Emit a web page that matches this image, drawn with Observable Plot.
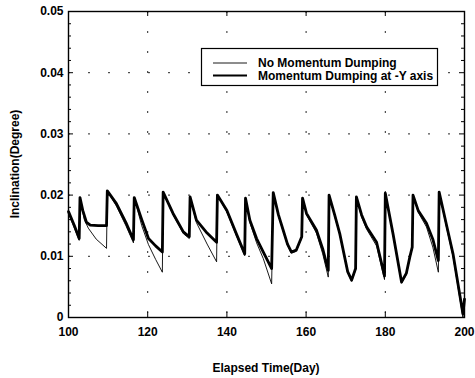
<!DOCTYPE html>
<html>
<head>
<meta charset="utf-8">
<script src="https://cdn.jsdelivr.net/npm/d3@7"></script>
<script src="https://cdn.jsdelivr.net/npm/@observablehq/plot@0.6"></script>
<style>
  html, body { margin: 0; padding: 0; background: #fff; }
  svg { display: block; }
</style>
</head>
<body>
<div id="chart"></div>
<script>
// Momentum Dumping at -Y axis (thick line)
const daysDump = [100, 101.5, 102.7, 102.9, 103.6, 104.5, 105.5, 107.5, 109.6, 109.8, 112.1, 114.5, 116.4, 116.6, 118.5, 120.2, 122, 123.7, 123.9, 126.4, 129, 130.5, 130.7, 132.3, 135, 137.4, 137.6, 140, 142.5, 144.5, 144.7, 145.8, 147.5, 149.2, 151.3, 151.7, 153, 154.2, 155.3, 156.3, 157.5, 158.9, 159.1, 160.1, 162.6, 164.2, 165.6, 165.8, 167.2, 168.5, 170.5, 171.5, 172.5, 172.7, 174, 175.3, 177.8, 179.8, 180, 182, 184.1, 185.3, 186.2, 186.8, 187, 188.3, 190.4, 192, 193.4, 193.6, 195.5, 197.1, 199.6, 200];
const incDump = [0.0173, 0.0150, 0.0129, 0.0196, 0.0175, 0.0156, 0.0151, 0.0150, 0.0150, 0.0207, 0.0186, 0.0155, 0.0127, 0.0196, 0.0160, 0.0129, 0.0117, 0.0107, 0.0205, 0.0170, 0.0140, 0.0132, 0.0197, 0.0159, 0.0138, 0.0123, 0.0200, 0.0175, 0.0135, 0.0104, 0.0195, 0.0159, 0.0129, 0.0107, 0.0080, 0.0204, 0.0168, 0.0143, 0.0120, 0.0107, 0.0110, 0.0132, 0.0195, 0.0170, 0.0143, 0.0112, 0.0077, 0.0200, 0.0168, 0.0137, 0.0075, 0.0061, 0.0080, 0.0197, 0.0168, 0.0148, 0.0123, 0.0068, 0.0203, 0.0135, 0.0058, 0.0072, 0.0099, 0.0115, 0.0200, 0.0175, 0.0154, 0.0128, 0.0093, 0.0205, 0.0150, 0.0104, 0.0006, 0.0030];

// No Momentum Dumping (thin line)
const daysNoDump = [100, 102.7, 102.9, 104, 105, 107, 109.6, 109.8, 112.1, 114.5, 116.4, 116.6, 118.5, 120.2, 122, 123.7, 123.9, 126.4, 129, 130.5, 130.7, 132.3, 135, 137.4, 137.6, 140, 142.5, 144.5, 144.7, 145.8, 147.5, 149.2, 151.3, 151.7, 153, 154.2, 155.3, 156.3, 157.5, 158.9, 159.1, 160.1, 162.6, 164.2, 165.6, 165.8, 167.2, 168.5, 170.5, 171.5, 172.5, 172.7, 174, 175.3, 177.8, 179.8, 180, 182, 184.1, 185.3, 186.2, 186.8, 187, 188.3, 190.4, 192, 193.4, 193.6, 195.5, 197.1, 199.6, 200];
const incNoDump = [0.0170, 0.0126, 0.0196, 0.0160, 0.0146, 0.0128, 0.0113, 0.0207, 0.0182, 0.0150, 0.0122, 0.0196, 0.0150, 0.0119, 0.0095, 0.0074, 0.0205, 0.0168, 0.0137, 0.0129, 0.0197, 0.0155, 0.0120, 0.0091, 0.0200, 0.0172, 0.0132, 0.0101, 0.0195, 0.0155, 0.0122, 0.0096, 0.0055, 0.0204, 0.0166, 0.0141, 0.0118, 0.0105, 0.0108, 0.0130, 0.0195, 0.0168, 0.0138, 0.0104, 0.0066, 0.0200, 0.0166, 0.0135, 0.0073, 0.0059, 0.0078, 0.0197, 0.0164, 0.0144, 0.0117, 0.0062, 0.0203, 0.0133, 0.0056, 0.0070, 0.0097, 0.0113, 0.0200, 0.0172, 0.0148, 0.0115, 0.0074, 0.0205, 0.0146, 0.0100, 0.0000, 0.0028];

const xTicks = [100, 120, 140, 160, 180, 200];
const yTicks = [0, 0.01, 0.02, 0.03, 0.04, 0.05];
const yMinor = [0.002, 0.004, 0.006, 0.008, 0.012, 0.014, 0.016, 0.018, 0.022, 0.024, 0.026, 0.028, 0.032, 0.034, 0.036, 0.038, 0.042, 0.044, 0.046, 0.048];
const seriesNames = ["No Momentum Dumping", "Momentum Dumping at -Y axis"];
const xLabel = "Elapsed Time(Day)";
const yLabel = "Inclination(Degree)";

const dump = daysDump.map((d, i) => ({day: d, inc: incDump[i]}));
const noDump = daysNoDump.map((d, i) => ({day: d, inc: incNoDump[i]}));

const W = 475, H = 378, ML = 68, MR = 11, MT = 11, MB = 61;
const PW = W - ML - MR, PH = H - MT - MB;
const font = "'Liberation Sans', Arial, Helvetica, sans-serif";

const chart = Plot.plot({
  width: W,
  height: H,
  marginLeft: ML,
  marginRight: MR,
  marginTop: MT,
  marginBottom: MB,
  style: {fontFamily: font, background: "#fff", color: "#000"},
  x: {domain: [100, 200]},
  y: {domain: [0, 0.05]},
  marks: [
    Plot.gridX(xTicks.slice(1, -1), {stroke: "#000", strokeOpacity: 0.85, strokeDasharray: "2,18"}),
    Plot.gridY(yTicks.slice(1, -1), {stroke: "#000", strokeOpacity: 0.85, strokeDasharray: "2,18"}),
    Plot.tickY(yMinor, {y: d => d, stroke: "#000", insetRight: PW - 3}),
    Plot.tickY(yMinor, {y: d => d, stroke: "#000", insetLeft: PW - 3}),
    Plot.tickY(yTicks, {y: d => d, stroke: "#000", insetRight: PW - 5}),
    Plot.tickY(yTicks, {y: d => d, stroke: "#000", insetLeft: PW - 5}),
    Plot.tickX(xTicks, {x: d => d, stroke: "#000", insetTop: PH - 5}),
    Plot.tickX(xTicks, {x: d => d, stroke: "#000", insetBottom: PH - 5}),
    Plot.line(dump, {x: "day", y: "inc", stroke: "#000", strokeWidth: 2.8, strokeLinejoin: "round"}),
    Plot.line(noDump, {x: "day", y: "inc", stroke: "#000", strokeWidth: 0.9, strokeLinejoin: "round"}),
    Plot.frame({stroke: "#000", strokeWidth: 1.4}),
    Plot.axisX(xTicks, {tickSize: 0, tickPadding: 10, fontSize: 12, fontWeight: "bold", label: null, tickFormat: d => String(d)}),
    Plot.axisY(yTicks, {tickSize: 0, tickPadding: 5, fontSize: 12, fontWeight: "bold", label: null, tickFormat: d => d === 0 ? "0" : d.toFixed(2)})
  ]
});

document.getElementById("chart").appendChild(chart);

const svg = d3.select(chart);
// axis titles
svg.append("text")
  .attr("x", ML + PW / 2).attr("y", 368)
  .attr("text-anchor", "middle").attr("dominant-baseline", "central")
  .attr("font-family", font).attr("font-size", 12).attr("font-weight", "bold")
  .attr("fill", "#000")
  .text(xLabel);
svg.append("text")
  .attr("transform", `translate(15,${MT + PH / 2}) rotate(-90)`)
  .attr("text-anchor", "middle").attr("dominant-baseline", "central")
  .attr("font-family", font).attr("font-size", 12).attr("font-weight", "bold")
  .attr("fill", "#000")
  .text(yLabel);

// legend
const lg = svg.append("g").attr("text-anchor", "start");
lg.append("rect")
  .attr("x", 201.5).attr("y", 48.5).attr("width", 236).attr("height", 37)
  .attr("fill", "#fff").attr("stroke", "#000").attr("stroke-width", 1.2);
const rows = [{y: 63, w: 0.9}, {y: 75.5, w: 2.2}];
rows.forEach((r, i) => {
  lg.append("line")
    .attr("x1", 213).attr("x2", 247).attr("y1", r.y).attr("y2", r.y)
    .attr("stroke", "#000").attr("stroke-width", r.w);
  lg.append("text")
    .attr("x", 258).attr("y", r.y)
    .attr("text-anchor", "start")
    .attr("dominant-baseline", "central")
    .attr("font-family", font).attr("font-size", 12).attr("font-weight", "bold")
    .attr("fill", "#000")
    .text(seriesNames[i]);
});
</script>
</body>
</html>
